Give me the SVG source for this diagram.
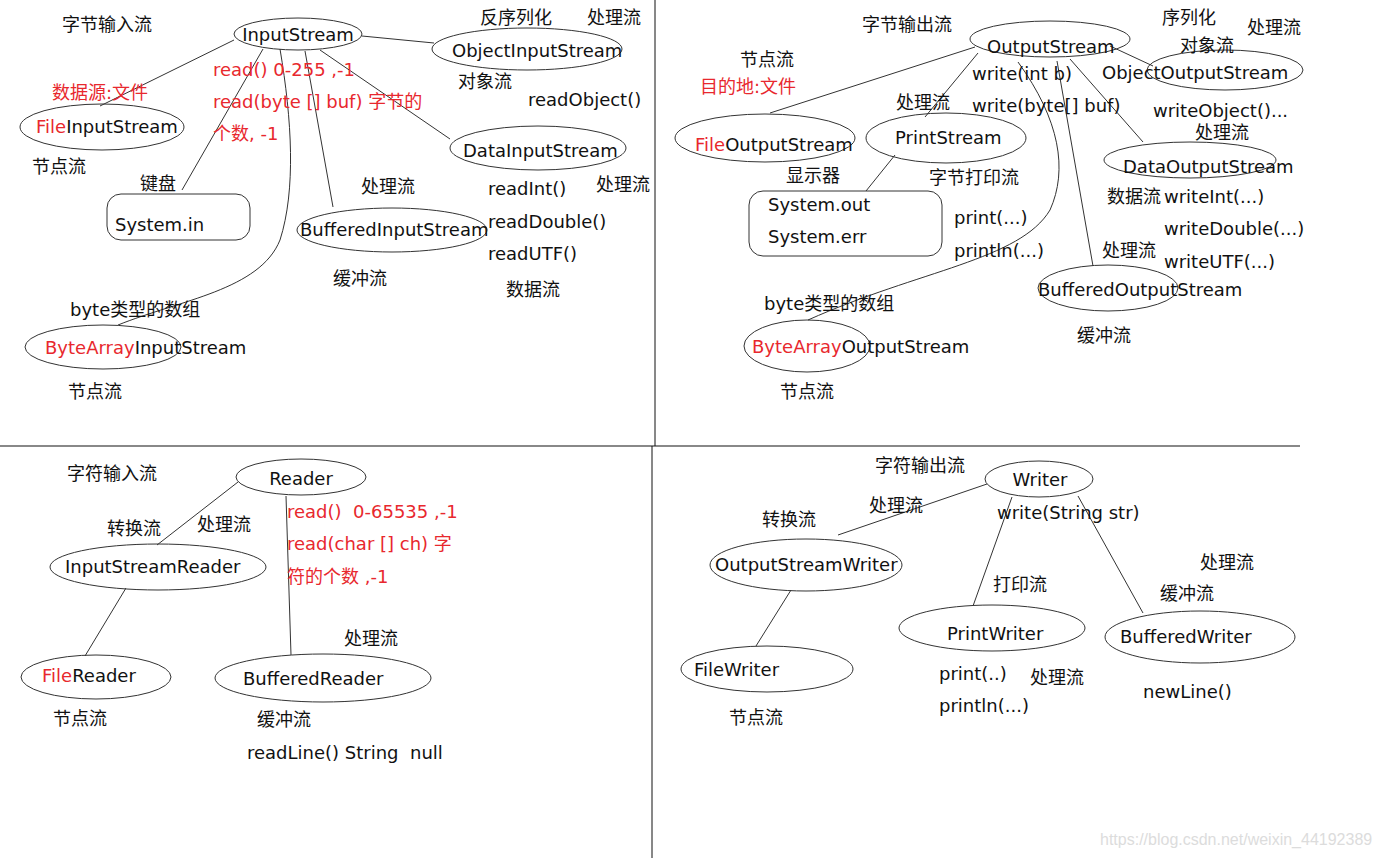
<svg xmlns="http://www.w3.org/2000/svg" width="1380" height="858" viewBox="0 0 1380 858">
<style>
text{font-family:"DejaVu Sans","Noto Sans CJK SC",sans-serif;font-size:18px;fill:#111}
.r{fill:#e8282e}
.n{fill:none;stroke:#333;stroke-width:1}
.c{fill:none;stroke:#333;stroke-width:1}
.mid{text-anchor:middle}
.wm{font-family:"Liberation Sans",sans-serif;font-size:16px;fill:#dcdcdc}
</style>
<rect width="1380" height="858" fill="#fff"/>
<g id="dividers">
<line x1="0" y1="446" x2="1300" y2="446" stroke="#888" stroke-width="2"/>
<line x1="655" y1="0" x2="655" y2="446" stroke="#111" stroke-width="1"/>
<line x1="652" y1="446" x2="652" y2="858" stroke="#111" stroke-width="1"/>
</g>
<g id="connectors">
<line class="c" x1="234" y1="40" x2="100" y2="106"/>
<line class="c" x1="263" y1="49" x2="182" y2="190"/>
<path class="c" d="M280,49 C292,120 296,190 280,240 C260,290 180,300 118,325"/>
<line class="c" x1="305" y1="51" x2="333" y2="207"/>
<line class="c" x1="320" y1="50" x2="450" y2="139"/>
<line class="c" x1="362" y1="36" x2="434" y2="43"/>
<line class="c" x1="975" y1="47" x2="770" y2="113"/>
<line class="c" x1="978" y1="53" x2="925" y2="117"/>
<line class="c" x1="895" y1="155" x2="866" y2="191"/>
<path class="c" d="M1018,62 C1060,120 1068,170 1050,210 C1020,260 920,270 808,320"/>
<line class="c" x1="1057" y1="61" x2="1093" y2="266"/>
<line class="c" x1="1070" y1="59" x2="1143" y2="142"/>
<line class="c" x1="1110" y1="46" x2="1153" y2="66"/>
<line class="c" x1="238" y1="482" x2="157" y2="545"/>
<line class="c" x1="126" y1="588" x2="85" y2="656"/>
<line class="c" x1="286" y1="496" x2="291" y2="655"/>
<line class="c" x1="987" y1="484" x2="838" y2="535"/>
<line class="c" x1="791" y1="590" x2="756" y2="646"/>
<line class="c" x1="1012" y1="497" x2="973" y2="606"/>
<line class="c" x1="1078" y1="496" x2="1143" y2="613"/>
</g>
<g id="byte-input">
<text x="62" y="31">字节输入流</text>
<text x="52" y="99" class="r">数据源:文件</text>
<text x="213" y="76" class="r">read() 0-255 ,-1</text>
<text x="213" y="108" class="r">read(byte [] buf) 字节的</text>
<text x="213" y="140" class="r">个数, -1</text>
<text x="32" y="173">节点流</text>
<text x="140" y="190">键盘</text>
<text x="70" y="316">byte类型的数组</text>
<text x="68" y="398">节点流</text>
</g>
<g id="InputStream">
<ellipse class="n" cx="298" cy="34" rx="64" ry="16"/>
<text x="298" y="41" class="mid">InputStream</text>
</g>
<g id="ObjectInputStream">
<text x="480" y="24">反序列化</text>
<text x="587" y="24">处理流</text>
<ellipse class="n" cx="527" cy="49" rx="95" ry="21"/>
<text x="452" y="57">ObjectInputStream</text>
<text x="458" y="88">对象流</text>
<text x="528" y="106">readObject()</text>
</g>
<g id="FileInputStream">
<ellipse class="n" cx="102" cy="127" rx="82" ry="23"/>
<text x="36" y="133"><tspan class="r">File</tspan>InputStream</text>
</g>
<g id="DataInputStream">
<ellipse class="n" cx="538" cy="148" rx="88" ry="22"/>
<text x="463" y="157">DataInputStream</text>
<text x="488" y="195">readInt()</text>
<text x="596" y="191">处理流</text>
<text x="488" y="228">readDouble()</text>
<text x="488" y="260">readUTF()</text>
<text x="506" y="296">数据流</text>
</g>
<g id="SystemIn">
<rect class="n" x="107" y="194" width="143" height="46" rx="14"/>
<text x="115" y="231">System.in</text>
</g>
<g id="BufferedInputStream">
<text x="361" y="193">处理流</text>
<ellipse class="n" cx="392" cy="230" rx="95" ry="22"/>
<text x="300" y="236">BufferedInputStream</text>
<text x="333" y="285">缓冲流</text>
</g>
<g id="ByteArrayInputStream">
<ellipse class="n" cx="103" cy="347" rx="78" ry="22"/>
<text x="45" y="354"><tspan class="r">ByteArray</tspan>InputStream</text>
</g>
<g id="byte-output">
<text x="862" y="31">字节输出流</text>
<text x="740" y="66">节点流</text>
<text x="700" y="93" class="r">目的地:文件</text>
<text x="972" y="80">write(int b)</text>
<text x="972" y="112">write(byte[] buf)</text>
<text x="896" y="109">处理流</text>
<text x="786" y="182">显示器</text>
<text x="929" y="184">字节打印流</text>
<text x="954" y="224">print(...)</text>
<text x="954" y="257">println(...)</text>
<text x="764" y="310">byte类型的数组</text>
<text x="780" y="398">节点流</text>
</g>
<g id="OutputStream">
<ellipse class="n" cx="1050" cy="39" rx="80" ry="18"/>
<text x="987" y="53">OutputStream</text>
</g>
<g id="ObjectOutputStream">
<text x="1162" y="24">序列化</text>
<text x="1247" y="34">处理流</text>
<ellipse class="n" cx="1225" cy="70" rx="78" ry="20"/>
<text x="1180" y="52">对象流</text>
<text x="1102" y="79">ObjectOutputStream</text>
<text x="1153" y="117">writeObject()...</text>
</g>
<g id="FileOutputStream">
<ellipse class="n" cx="765" cy="138" rx="90" ry="24"/>
<text x="695" y="151"><tspan class="r">File</tspan>OutputStream</text>
</g>
<g id="PrintStream">
<ellipse class="n" cx="946" cy="138" rx="80" ry="25"/>
<text x="895" y="144">PrintStream</text>
</g>
<g id="DataOutputStream">
<text x="1195" y="139">处理流</text>
<ellipse class="n" cx="1190" cy="160" rx="86" ry="18"/>
<text x="1123" y="173">DataOutputStream</text>
<text x="1107" y="203">数据流</text>
<text x="1164" y="203">writeInt(...)</text>
<text x="1164" y="235">writeDouble(...)</text>
<text x="1164" y="268">writeUTF(...)</text>
</g>
<g id="SystemOut">
<rect class="n" x="749" y="191" width="193" height="65" rx="14"/>
<text x="768" y="211">System.out</text>
<text x="768" y="243">System.err</text>
</g>
<g id="BufferedOutputStream">
<text x="1102" y="257">处理流</text>
<ellipse class="n" cx="1108" cy="288" rx="70" ry="23"/>
<text x="1038" y="296">BufferedOutputStream</text>
<text x="1077" y="342">缓冲流</text>
</g>
<g id="ByteArrayOutputStream">
<ellipse class="n" cx="807" cy="346" rx="63" ry="26"/>
<text x="752" y="353"><tspan class="r">ByteArray</tspan>OutputStream</text>
</g>
<g id="char-input">
<text x="67" y="480">字符输入流</text>
<text x="107" y="535">转换流</text>
<text x="197" y="531">处理流</text>
<text x="287" y="518" class="r" xml:space="preserve">read()  0-65535 ,-1</text>
<text x="287" y="550" class="r">read(char [] ch) 字</text>
<text x="287" y="583" class="r">符的个数 ,-1</text>
<text x="53" y="725">节点流</text>
</g>
<g id="Reader">
<ellipse class="n" cx="301" cy="477" rx="65" ry="18"/>
<text x="301" y="485" class="mid">Reader</text>
</g>
<g id="InputStreamReader">
<ellipse class="n" cx="158" cy="567" rx="108" ry="23"/>
<text x="65" y="573">InputStreamReader</text>
</g>
<g id="FileReader">
<ellipse class="n" cx="96" cy="677" rx="75" ry="22"/>
<text x="42" y="682"><tspan class="r">File</tspan>Reader</text>
</g>
<g id="BufferedReader">
<text x="344" y="645">处理流</text>
<ellipse class="n" cx="323" cy="678" rx="108" ry="24"/>
<text x="243" y="685">BufferedReader</text>
<text x="257" y="726">缓冲流</text>
<text x="247" y="759" xml:space="preserve">readLine() String  null</text>
</g>
<g id="char-output">
<text x="875" y="472">字符输出流</text>
<text x="869" y="512">处理流</text>
<text x="762" y="526">转换流</text>
<text x="997" y="519">write(String str)</text>
<text x="729" y="724">节点流</text>
</g>
<g id="Writer">
<ellipse class="n" cx="1039" cy="479" rx="54" ry="18"/>
<text x="1040" y="486" class="mid">Writer</text>
</g>
<g id="OutputStreamWriter">
<ellipse class="n" cx="806" cy="565" rx="96" ry="26"/>
<text x="715" y="571">OutputStreamWriter</text>
</g>
<g id="FileWriter">
<ellipse class="n" cx="767" cy="669" rx="86" ry="23"/>
<text x="694" y="676">FileWriter</text>
</g>
<g id="PrintWriter">
<text x="993" y="591">打印流</text>
<ellipse class="n" cx="992" cy="628" rx="93" ry="23"/>
<text x="947" y="640">PrintWriter</text>
<text x="939" y="680">print(..)</text>
<text x="939" y="712">println(...)</text>
<text x="1030" y="684">处理流</text>
</g>
<g id="BufferedWriter">
<text x="1200" y="569">处理流</text>
<text x="1160" y="600">缓冲流</text>
<ellipse class="n" cx="1200" cy="637" rx="95" ry="26"/>
<text x="1120" y="643">BufferedWriter</text>
<text x="1143" y="698">newLine()</text>
</g>
<text x="1100" y="845" class="wm">https://blog.csdn.net/weixin_44192389</text>
</svg>
